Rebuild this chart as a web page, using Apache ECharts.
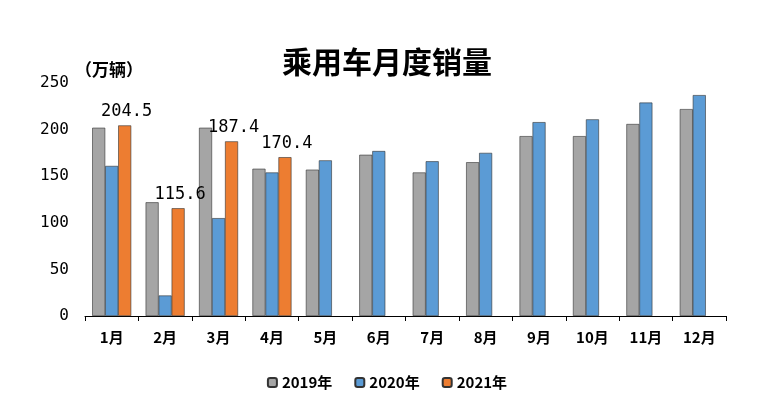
<!DOCTYPE html>
<html><head><meta charset="utf-8">
<script src="https://cdn.jsdelivr.net/npm/echarts@6/dist/echarts.min.js"></script>
<style>html,body{margin:0;background:#fff}#c{width:774px;height:403px}</style>
</head><body><div id="c"></div>
<script>
var months = ['1月','2月','3月','4月','5月','6月','7月','8月','9月','10月','11月','12月'];
var sales2019 = [202, 122, 202, 158, 157, 173, 154, 165, 193, 193, 206, 222];
var sales2020 = [161, 22, 105, 154, 167, 177, 166, 175, 208, 211, 229, 237];
var sales2021 = [204.5, 115.6, 187.4, 170.4];
var yTicks = [0, 50, 100, 150, 200, 250];

var font = '"Noto Sans CJK SC", sans-serif';
var chart = echarts.init(document.getElementById('c'));
var bar = function (name, data, color, label) {
    return {
        name: name, type: 'bar', data: data, barWidth: 13, barGap: '0%',
        itemStyle: { color: color, borderColor: '#333', borderWidth: 0.6 },
        label: { show: label, position: 'top', color: '#000', fontSize: 17, fontFamily: 'DejaVu Sans Mono', offset: [2, 0] }
    };
};
chart.setOption({
    animation: false,
    textStyle: { fontFamily: font },
    title: [
        { text: '乘用车月度销量', left: 'center', top: 42, textStyle: { fontSize: 30, fontWeight: 'bold', color: '#000', fontFamily: font } },
        { text: '（万辆）', left: 70, top: 56, textStyle: { fontSize: 17, fontWeight: 'bold', color: '#000', fontFamily: font } }
    ],
    legend: {
        bottom: 8, left: 'center', itemWidth: 9, itemHeight: 9, itemGap: 22,
        textStyle: { fontSize: 15, color: '#000', fontWeight: 'bold' },
        data: ['2019年', '2020年', '2021年']
    },
    grid: { left: 85, right: 48, top: 83, bottom: 87 },
    xAxis: {
        type: 'category', data: months,
        axisLine: { lineStyle: { color: '#000' } },
        axisTick: { show: true, lineStyle: { color: '#000' } },
        axisLabel: { color: '#000', fontSize: 15, fontWeight: 'bold', margin: 14 }
    },
    yAxis: {
        type: 'value', min: 0, max: 250, interval: 50,
        axisLine: { show: false },
        axisTick: { show: false },
        splitLine: { show: false },
        axisLabel: { color: '#000', fontSize: 16, fontFamily: 'DejaVu Sans Mono', margin: 16,
            formatter: function (v) { return yTicks.indexOf(v) >= 0 ? String(v) : ''; } }
    },
    series: [
        bar('2019年', sales2019, '#a5a5a5', false),
        bar('2020年', sales2020, '#5b9bd5', false),
        bar('2021年', sales2021, '#ed7d31', true)
    ]
});
</script></body></html>
